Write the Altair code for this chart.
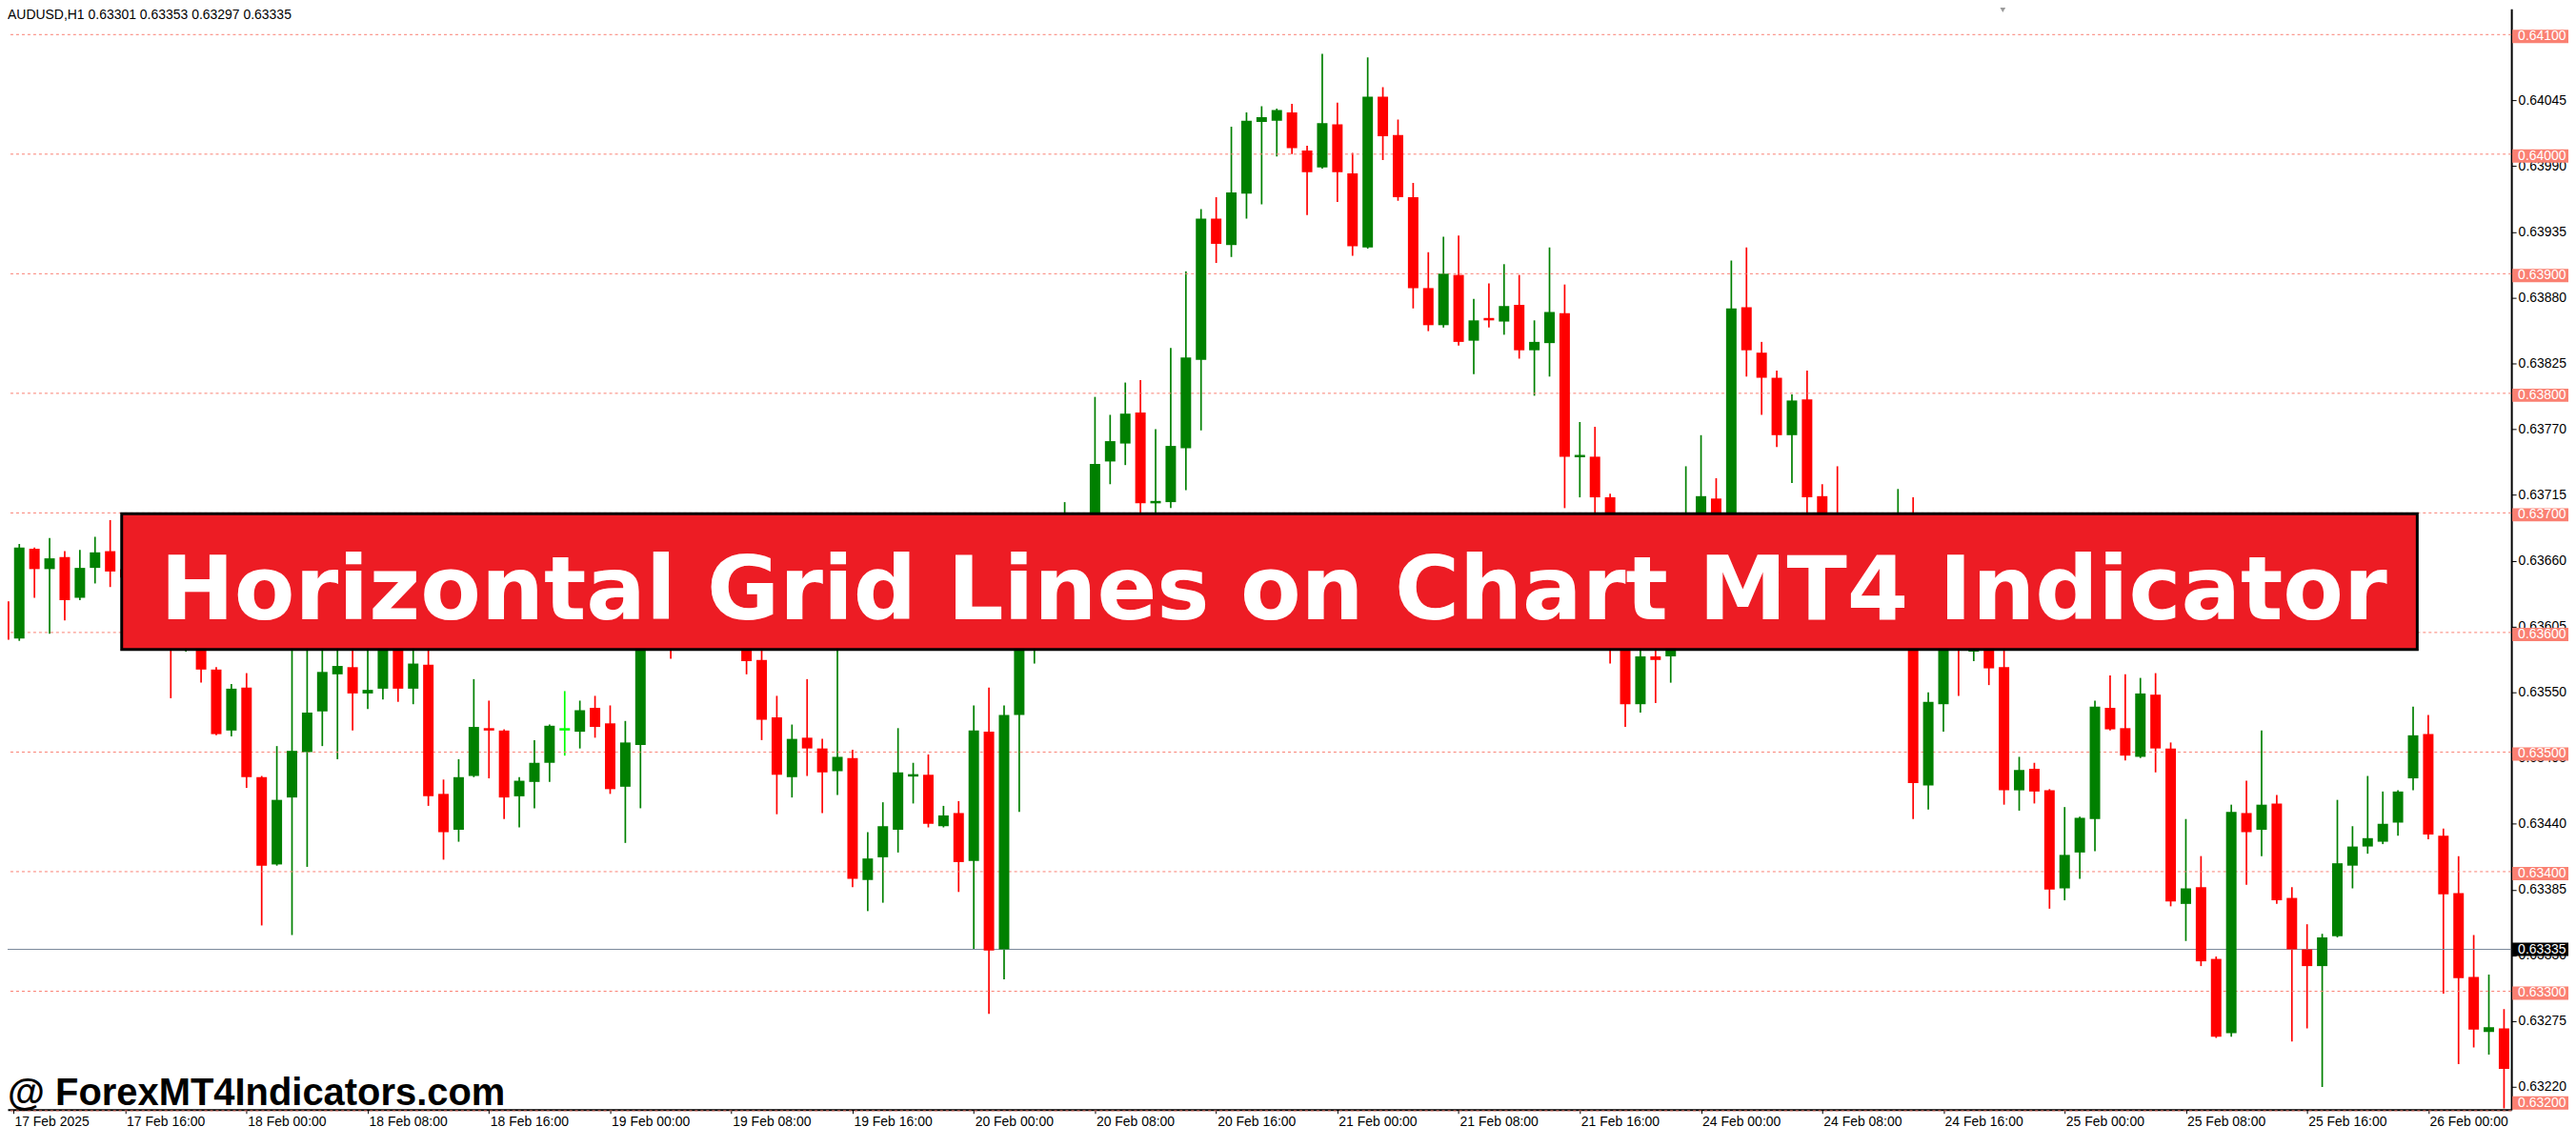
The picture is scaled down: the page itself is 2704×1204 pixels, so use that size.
import json
import pandas as pd
import altair as alt

# ---------------- data ----------------
opens = [0.63626,0.63595,0.63670,0.63653,0.63663,0.63629,0.63654,0.63668,0.63653,0.63646,
0.63630,0.63610,0.63590,0.63600,0.63569,0.63518,0.63554,0.63479,0.63406,0.63462,
0.63500,0.63534,0.63565,0.63571,0.63549,0.63553,0.63620,0.63553,0.63573,0.63465,
0.63435,0.63480,0.63520,0.63518,0.63463,0.63475,0.63491,0.63519,0.63517,0.63537,
0.63524,0.63471,0.63506,0.63610,0.63630,0.63600,0.63620,0.63600,0.63630,0.63610,
0.63577,0.63529,0.63479,0.63512,0.63503,0.63484,0.63495,0.63393,0.63412,0.63435,
0.63480,0.63481,0.63438,0.63449,0.63409,0.63517,0.63335,0.63531,0.63620,0.63650,
0.63630,0.63670,0.63650,0.63743,0.63758,0.63784,0.63708,0.63709,0.63754,0.63828,
0.63946,0.63924,0.63967,0.64027,0.64028,0.64035,0.64003,0.63989,0.64025,0.63984,
0.63922,0.64048,0.64016,0.63964,0.63888,0.63857,0.63899,0.63844,0.63863,0.63860,
0.63874,0.63836,0.63842,0.63867,0.63747,0.63747,0.63713,0.63610,0.63540,0.63580,
0.63580,0.63640,0.63680,0.63712,0.63680,0.63872,0.63834,0.63813,0.63765,0.63795,
0.63714,0.63660,0.63640,0.63660,0.63640,0.63660,0.63680,0.63472,0.63540,0.63600,
0.63584,0.63600,0.63571,0.63468,0.63486,0.63468,0.63386,0.63416,0.63444,0.63537,
0.63520,0.63496,0.63548,0.63503,0.63373,0.63387,0.63327,0.63265,0.63449,0.63435,
0.63457,0.63378,0.63335,0.63321,0.63346,0.63405,0.63421,0.63425,0.63441,0.63478,
0.63515,0.63430,0.63382,0.63312,0.63266,0.63269]

highs = [0.63630,0.63674,0.63671,0.63679,0.63668,0.63669,0.63680,0.63694,0.63660,0.63660,
0.63640,0.63620,0.63620,0.63610,0.63571,0.63557,0.63566,0.63480,0.63505,0.63610,
0.63600,0.63600,0.63600,0.63600,0.63590,0.63640,0.63630,0.63600,0.63600,0.63477,
0.63494,0.63561,0.63543,0.63519,0.63479,0.63510,0.63523,0.63551,0.63543,0.63547,
0.63539,0.63526,0.63625,0.63650,0.63650,0.63640,0.63630,0.63650,0.63660,0.63620,
0.63590,0.63547,0.63523,0.63561,0.63511,0.63620,0.63502,0.63433,0.63458,0.63520,
0.63491,0.63498,0.63455,0.63459,0.63539,0.63554,0.63539,0.63630,0.63670,0.63670,
0.63709,0.63690,0.63797,0.63782,0.63809,0.63811,0.63770,0.63838,0.63902,0.63954,
0.63964,0.64023,0.64035,0.64040,0.64038,0.64042,0.64007,0.64084,0.64043,0.64001,
0.64081,0.64056,0.64029,0.63976,0.63918,0.63931,0.63932,0.63879,0.63892,0.63908,
0.63899,0.63861,0.63922,0.63891,0.63776,0.63772,0.63716,0.63620,0.63590,0.63600,
0.63660,0.63739,0.63765,0.63729,0.63911,0.63922,0.63843,0.63819,0.63799,0.63819,
0.63724,0.63739,0.63680,0.63680,0.63680,0.63720,0.63713,0.63550,0.63620,0.63620,
0.63620,0.63620,0.63590,0.63496,0.63491,0.63469,0.63454,0.63446,0.63543,0.63564,
0.63565,0.63562,0.63566,0.63508,0.63444,0.63413,0.63329,0.63456,0.63476,0.63518,
0.63464,0.63387,0.63356,0.63348,0.63460,0.63438,0.63480,0.63467,0.63468,0.63538,
0.63531,0.63436,0.63413,0.63347,0.63314,0.63285]

lows = [0.63590,0.63593,0.63629,0.63599,0.63610,0.63627,0.63641,0.63638,0.63640,0.63620,
0.63600,0.63545,0.63584,0.63558,0.63514,0.63513,0.63470,0.63355,0.63405,0.63347,
0.63404,0.63505,0.63494,0.63518,0.63536,0.63544,0.63542,0.63540,0.63455,0.63410,
0.63425,0.63479,0.63478,0.63444,0.63437,0.63453,0.63475,0.63497,0.63503,0.63512,
0.63465,0.63424,0.63453,0.63600,0.63578,0.63590,0.63590,0.63590,0.63600,0.63565,
0.63510,0.63448,0.63462,0.63480,0.63449,0.63464,0.63387,0.63367,0.63374,0.63416,
0.63457,0.63437,0.63437,0.63383,0.63335,0.63281,0.63310,0.63450,0.63574,0.63610,
0.63620,0.63630,0.63640,0.63724,0.63740,0.63700,0.63690,0.63704,0.63719,0.63769,
0.63909,0.63914,0.63946,0.63958,0.63998,0.64000,0.63949,0.63988,0.63960,0.63915,
0.63921,0.63995,0.63961,0.63871,0.63852,0.63855,0.63840,0.63816,0.63855,0.63849,
0.63829,0.63798,0.63814,0.63704,0.63713,0.63698,0.63574,0.63521,0.63533,0.63541,
0.63558,0.63620,0.63660,0.63660,0.63660,0.63814,0.63782,0.63755,0.63725,0.63690,
0.63640,0.63620,0.63630,0.63620,0.63630,0.63650,0.63444,0.63452,0.63517,0.63547,
0.63576,0.63556,0.63456,0.63451,0.63457,0.63369,0.63376,0.63394,0.63417,0.63518,
0.63493,0.63495,0.63483,0.63371,0.63342,0.63321,0.63261,0.63262,0.63389,0.63413,
0.63373,0.63258,0.63269,0.63220,0.63345,0.63386,0.63415,0.63423,0.63430,0.63468,
0.63427,0.63298,0.63239,0.63253,0.63247,0.63202]

closes = [0.63594,0.63671,0.63653,0.63662,0.63627,0.63654,0.63667,0.63651,0.63646,0.63630,
0.63610,0.63590,0.63600,0.63569,0.63515,0.63553,0.63479,0.63405,0.63460,0.63501,
0.63533,0.63567,0.63572,0.63549,0.63552,0.63620,0.63553,0.63574,0.63463,0.63433,
0.63479,0.63521,0.63518,0.63462,0.63476,0.63491,0.63522,0.63519,0.63535,0.63521,
0.63469,0.63508,0.63610,0.63630,0.63600,0.63620,0.63600,0.63630,0.63610,0.63576,
0.63527,0.63481,0.63511,0.63503,0.63483,0.63496,0.63394,0.63411,0.63438,0.63483,
0.63481,0.63440,0.63447,0.63408,0.63518,0.63334,0.63531,0.63620,0.63650,0.63630,
0.63670,0.63650,0.63741,0.63760,0.63783,0.63708,0.63710,0.63756,0.63830,0.63946,
0.63925,0.63968,0.64028,0.64031,0.64037,0.64005,0.63985,0.64026,0.63985,0.63923,
0.64048,0.64015,0.63964,0.63888,0.63857,0.63900,0.63843,0.63861,0.63861,0.63873,
0.63836,0.63843,0.63868,0.63747,0.63748,0.63713,0.63610,0.63540,0.63580,0.63577,
0.63640,0.63680,0.63714,0.63680,0.63871,0.63836,0.63813,0.63765,0.63794,0.63713,
0.63660,0.63640,0.63660,0.63640,0.63660,0.63680,0.63474,0.63542,0.63600,0.63586,
0.63600,0.63570,0.63468,0.63485,0.63467,0.63385,0.63414,0.63445,0.63538,0.63519,
0.63497,0.63549,0.63503,0.63375,0.63386,0.63325,0.63262,0.63450,0.63433,0.63456,
0.63376,0.63335,0.63321,0.63345,0.63407,0.63421,0.63428,0.63440,0.63467,0.63514,
0.63431,0.63381,0.63311,0.63268,0.63270,0.63235]

x_tick_index = [0.6, 8, 16, 24, 32, 40, 48, 56, 64, 72, 80, 88, 96, 104, 112, 120, 128, 136, 144, 152, 160]
x_tick_labels = ["17 Feb 2025", "17 Feb 16:00", "18 Feb 00:00", "18 Feb 08:00", "18 Feb 16:00",
                 "19 Feb 00:00", "19 Feb 08:00", "19 Feb 16:00", "20 Feb 00:00", "20 Feb 08:00",
                 "20 Feb 16:00", "21 Feb 00:00", "21 Feb 08:00", "21 Feb 16:00", "24 Feb 00:00",
                 "24 Feb 08:00", "24 Feb 16:00", "25 Feb 00:00", "25 Feb 08:00", "25 Feb 16:00",
                 "26 Feb 00:00"]
price_ticks = [0.64045, 0.63990, 0.63935, 0.63880, 0.63825, 0.63770, 0.63715, 0.63660,
               0.63605, 0.63550, 0.63495, 0.63440, 0.63385, 0.63330, 0.63275, 0.63220]
grid_levels = [0.641, 0.640, 0.639, 0.638, 0.637, 0.636, 0.635, 0.634, 0.633, 0.632]
last_price = 0.63335
header_text = "AUDUSD,H1  0.63301 0.63353 0.63297 0.63335"
banner_text = "Horizontal Grid Lines on Chart MT4 Indicator"
watermark_text = "@ ForexMT4Indicators.com"

# ---------------- layout ----------------
W, H = 2634, 1158
Y_MIN, Y_MAX = 0.632010, 0.641215
X_MIN, X_MAX = 0.544, 165.17
PX = (Y_MAX - Y_MIN) / H  # price per pixel

xs = alt.Scale(domain=[X_MIN, X_MAX], nice=False, zero=False)
ys = alt.Scale(domain=[Y_MIN, Y_MAX], nice=False, zero=False)

UP, DOWN, FLAT = "#008000", "#FF0000", "#00FF00"
SALMON = "#FA8072"

# ---------------- candle table ----------------
cd = pd.DataFrame({"idx": list(range(len(opens))), "o": opens, "h": highs, "l": lows, "c": closes})
cd["dir"] = ["up" if c > o else ("down" if c < o else "flat") for o, c in zip(cd.o, cd.c)]
top = cd[["o", "c"]].max(axis=1)
bot = cd[["o", "c"]].min(axis=1)
mid = (top + bot) / 2
thin = (top - bot) < 2.5 * PX
cd["top"] = top.where(~thin, mid + 1.25 * PX)
cd["bot"] = bot.where(~thin, mid - 1.25 * PX)

color = alt.Color("dir:N", scale=alt.Scale(domain=["up", "down", "flat"], range=[UP, DOWN, FLAT]), legend=None)

x_axis = alt.Axis(values=x_tick_index,
                  labelExpr=f"{json.dumps(x_tick_labels)}[round(datum.value / 8)]",
                  labelAlign="left", labelBaseline="top", labelPadding=2, labelOffset=1,
                  labelFont="Liberation Sans", labelFontSize=14, labelColor="black",
                  tickSize=4, tickColor="black", domainColor="black", domainWidth=2,
                  grid=False, labelOverlap=False, labelFlush=False, labelBound=False, title=None)
y_axis = alt.Axis(orient="right", values=price_ticks,
                  labelExpr="format(datum.value, '.5f')",
                  labelAlign="left", labelBaseline="middle", labelPadding=2,
                  labelFont="Liberation Sans", labelFontSize=14, labelColor="black",
                  tickSize=5, tickColor="black", domainColor="black", domainWidth=2,
                  grid=False, labelOverlap=False, labelFlush=False, labelBound=False, title=None)

def Y(field):
    return alt.Y(field, scale=ys, title=None)

# axis carrier layer (first, so its axis definition is used)
wicks = alt.Chart(cd).mark_rule(strokeWidth=1.7, clip=True).encode(
    x=alt.X("idx:Q", scale=xs, axis=x_axis),
    y=alt.Y("l:Q", scale=ys, axis=y_axis),
    y2="h:Q",
    color=color,
)
bodies = alt.Chart(cd).mark_bar(size=11, clip=True).encode(
    x=alt.X("idx:Q", scale=xs, title=None),
    y=Y("bot:Q"),
    y2="top:Q",
    color=color,
)

# ---------------- grid levels & price line ----------------
gd = pd.DataFrame({"v": grid_levels})
gd["lbl"] = [f"{v:.5f}" for v in grid_levels]
gd["cy"] = [max(v - 2 * PX, Y_MIN + 7 * PX) for v in grid_levels]
gd["lo"] = gd["cy"] - 7 * PX
gd["hi"] = gd["cy"] + 7 * PX

grid = alt.Chart(gd).mark_rule(color=SALMON, strokeDash=[3, 3], strokeWidth=1).encode(y=Y("v:Q"))
grid_boxes = alt.Chart(gd).mark_rect(color=SALMON).encode(
    x=alt.value(W + 1), x2=alt.value(W + 60), y=Y("lo:Q"), y2="hi:Q")
grid_text = alt.Chart(gd).mark_text(align="left", baseline="middle", color="white",
                                    font="Liberation Sans", fontSize=14).encode(
    x=alt.value(W + 7), y=Y("cy:Q"), text="lbl:N")

pd_last = pd.DataFrame({"v": [last_price], "lbl": [f"{last_price:.5f}"]})
pd_last["lo"] = pd_last["v"] - 7 * PX
pd_last["hi"] = pd_last["v"] + 7 * PX
price_line = alt.Chart(pd_last).mark_rule(color="#778899", strokeWidth=1).encode(y=Y("v:Q"))
price_box = alt.Chart(pd_last).mark_rect(color="black").encode(
    x=alt.value(W + 1), x2=alt.value(W + 60), y=Y("lo:Q"), y2="hi:Q")
price_text = alt.Chart(pd_last).mark_text(align="left", baseline="middle", color="white",
                                          font="Liberation Sans", fontSize=14).encode(
    x=alt.value(W + 7), y=Y("v:Q"), text="lbl:N")

# ---------------- annotations ----------------
one = pd.DataFrame({"k": [0]})
banner_rect = alt.Chart(one).mark_rect(fill="#ED1C24", stroke="black", strokeWidth=3).encode(
    x=alt.value(120), x2=alt.value(2535), y=alt.value(531), y2=alt.value(674))
banner = alt.Chart(pd.DataFrame({"t": [banner_text]})).mark_text(
    align="center", baseline="alphabetic", color="white", font="DejaVu Sans",
    fontWeight="bold", fontSize=93).encode(x=alt.value(1332), y=alt.value(642), text="t:N")
header = alt.Chart(pd.DataFrame({"t": [header_text]})).mark_text(
    align="left", baseline="alphabetic", color="black", font="Liberation Sans",
    fontSize=14).encode(x=alt.value(0), y=alt.value(11), text="t:N")
watermark = alt.Chart(pd.DataFrame({"t": [watermark_text]})).mark_text(
    align="left", baseline="alphabetic", color="black", font="Liberation Sans",
    fontWeight="bold", fontSize=40).encode(x=alt.value(0), y=alt.value(1153), text="t:N")
shift_marker = alt.Chart(one).mark_point(shape="triangle-down", filled=True, color="#9a9a9a",
                                         size=70, opacity=1).encode(
    x=alt.value(2099), y=alt.value(0))

chart = alt.layer(
    wicks, grid, price_line, bodies, banner_rect, banner, header, watermark,
    grid_boxes, grid_text, price_box, price_text, shift_marker,
).properties(
    width=W, height=H,
    autosize=alt.AutoSizeParams(type="none"),
    padding={"left": 0, "top": 0, "right": 60, "bottom": 22},
    background="white",
).configure_view(stroke=None)

chart.save("out.html", embed_options={"renderer": "svg", "actions": False})
